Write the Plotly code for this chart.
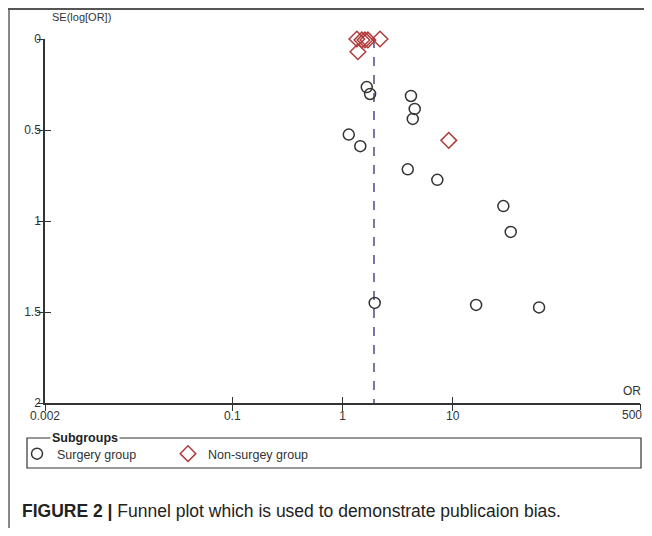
import math
import plotly.graph_objects as go

# ---- data ----
surgery_or = [1.66, 1.78, 4.18, 4.52, 4.34, 1.14, 1.45, 3.91, 7.25, 28.8, 33.6, 1.96, 16.3, 60.7]
surgery_se = [0.264, 0.302, 0.313, 0.384, 0.439, 0.525, 0.589, 0.716, 0.774, 0.918, 1.060, 1.450, 1.461, 1.475]
nonsurg_or = [1.35, 1.50, 1.60, 1.70, 2.19, 1.38, 9.2]
nonsurg_se = [0.0, 0.005, 0.005, 0.005, 0.0, 0.07, 0.557]
pooled_or = 1.93
x_ticks = [0.002, 0.1, 1, 10, 500]
x_ticklabels = ["0.002", "0.1", "1", "10", "500"]
y_ticks = [0, 0.5, 1, 1.5, 2]
y_ticklabels = ["0", "0.5", "1", "1.5", "2"]

# page has an 8px body margin; keep the page exactly 652x536 (no overflow)
OFF = 8
W, H = 652 - 2 * OFF, 536 - 2 * OFF
PL, PR, PT, PB = 45, 640, 39, 403          # plot box in page pixels
ML, MR, MT, MB = PL - OFF, W - (PR - OFF), PT - OFF, H - (PB - OFF)
PW, PH = W - ML - MR, H - MT - MB

def px(x):
    return (x - OFF - ML) / PW

def py(y):
    return (H - MB - (y - OFF)) / PH

FONT = "Liberation Sans, Arial, sans-serif"
AX = "#333333"

fig = go.Figure()
fig.add_trace(go.Scatter(
    x=[pooled_or, pooled_or], y=[0, 2], mode="lines",
    line=dict(color="#4a4a8c", width=1.5, dash="dash"),
    showlegend=False, hoverinfo="skip", cliponaxis=False))
fig.add_trace(go.Scatter(
    x=surgery_or, y=surgery_se, mode="markers", name="Surgery group",
    marker=dict(symbol="circle-open", size=11, color="#333333", line=dict(width=1.5)),
    cliponaxis=False))
fig.add_trace(go.Scatter(
    x=nonsurg_or, y=nonsurg_se, mode="markers", name="Non-surgey group",
    marker=dict(symbol="diamond-open", size=12, color="#b03a3a", line=dict(width=1.5)),
    cliponaxis=False))
# invisible trace to anchor the overlay axes (inside ticks)
fig.add_trace(go.Scatter(x=[1], y=[1], xaxis="x2", yaxis="y2", mode="markers",
                         marker=dict(opacity=0), showlegend=False, hoverinfo="skip"))

axis_common = dict(showgrid=False, zeroline=False, showline=True, linecolor=AX, linewidth=1.5,
                   ticks="outside", ticklen=6, tickcolor=AX, tickwidth=1.2,
                   tickfont=dict(family=FONT, size=12, color=AX))

# last x tick label is written as an annotation so it is not dropped at the page edge
fig.update_layout(
    width=W, height=H,
    margin=dict(l=ML, r=MR, t=MT, b=MB),
    paper_bgcolor="white", plot_bgcolor="white",
    xaxis=dict(type="log", range=[math.log10(0.002), math.log10(500)],
               tickvals=x_ticks[:-1], ticktext=x_ticklabels[:-1], ticklabelstandoff=-5, **axis_common),
    yaxis=dict(range=[2, 0], tickvals=y_ticks, ticktext=y_ticklabels, ticklabelstandoff=-6, **axis_common),
    xaxis2=dict(type="log", range=[math.log10(0.002), math.log10(500)], overlaying="x", anchor="y2",
                tickvals=x_ticks, showticklabels=False, ticks="outside", ticklen=6, tickcolor=AX,
                tickwidth=1.2, showgrid=False, zeroline=False, showline=False, side="bottom"),
    yaxis2=dict(range=[2, 0], overlaying="y", anchor="x2", tickvals=y_ticks, showticklabels=False,
                ticks="inside", ticklen=6, tickcolor=AX, tickwidth=1.2, showgrid=False,
                zeroline=False, showline=False),
    xaxis3=dict(type="log", range=[math.log10(0.002), math.log10(500)], overlaying="x", anchor="y",
                tickvals=x_ticks, showticklabels=False, ticks="inside", ticklen=6, tickcolor=AX,
                tickwidth=1.2, showgrid=False, zeroline=False, showline=False),
    showlegend=True,
    legend=dict(orientation="h", x=px(17), y=py(454), xanchor="left", yanchor="middle",
                font=dict(family=FONT, size=12.5, color=AX), bgcolor="rgba(0,0,0,0)",
                entrywidth=106, entrywidthmode="pixels", itemclick=False),
    font=dict(family=FONT, color=AX),
)
fig.add_trace(go.Scatter(x=[1], y=[1], xaxis="x3", yaxis="y", mode="markers",
                         marker=dict(opacity=0), showlegend=False, hoverinfo="skip"))

shapes = [
    dict(type="rect", xref="paper", yref="paper", x0=px(27), x1=px(641), y0=py(438), y1=py(468),
         line=dict(color="#333333", width=1.2)),
    dict(type="line", xref="paper", yref="paper", x0=px(9), x1=px(9), y0=py(8), y1=py(540),
         line=dict(color="#888888", width=2)),
    dict(type="line", xref="paper", yref="paper", x0=px(8), x1=px(660), y0=py(9), y1=py(9),
         line=dict(color="#555555", width=2)),
]
fig.update_layout(shapes=shapes)

fig.add_annotation(xref="x", yref="paper", x=math.log10(x_ticks[-1]), y=py(415), xanchor="right",
                   yanchor="middle", xshift=4, text=x_ticklabels[-1], showarrow=False,
                   font=dict(family=FONT, size=12, color=AX))
fig.add_annotation(xref="paper", yref="paper", x=px(50), y=py(438), xanchor="left", yanchor="middle",
                   text="<b>Subgroups</b>", showarrow=False, bgcolor="white", borderpad=1,
                   font=dict(family=FONT, size=12.5, color="#222222"))
fig.add_annotation(xref="paper", yref="paper", x=px(50), y=py(17), xanchor="left", yanchor="middle",
                   text="SE(log[OR])", showarrow=False, font=dict(family=FONT, size=11, color=AX))
fig.add_annotation(xref="paper", yref="paper", x=px(632), y=py(391), xanchor="center", yanchor="middle",
                   text="OR", showarrow=False, font=dict(family=FONT, size=12, color=AX))
fig.add_annotation(xref="paper", yref="paper", x=px(20), y=py(511), xanchor="left", yanchor="middle",
                   text="<b>FIGURE 2 |</b> Funnel plot which is used to demonstrate publicaion bias.",
                   showarrow=False, font=dict(family=FONT, size=17.5, color="#222222"))

fig.write_html("out.html")
